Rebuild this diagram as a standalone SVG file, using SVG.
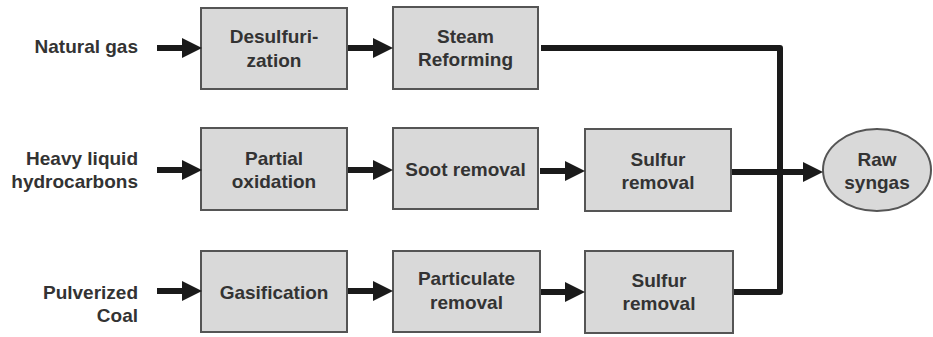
<svg xmlns="http://www.w3.org/2000/svg" width="933" height="337" viewBox="0 0 933 337">
  <style>
    .box { fill: #d9d9d9; stroke: #555555; stroke-width: 2; }
    .lbl { font-family: "Liberation Sans", Arial, sans-serif; font-weight: bold; font-size: 19px; fill: #333333; }
    .mid { text-anchor: middle; }
    .end { text-anchor: end; }
    .flow { fill: none; stroke: #1a1a1a; stroke-width: 6; stroke-linejoin: round; }
  </style>
  <defs>
    <marker id="head" viewBox="0 0 20 20" markerWidth="20" markerHeight="20" markerUnits="userSpaceOnUse" refX="1" refY="10" orient="auto">
      <path d="M0,0 L20,10 L0,20 z" fill="#1a1a1a"/>
    </marker>
  </defs>

  <rect width="933" height="337" fill="#ffffff"/>

  <!-- feedstock labels -->
  <g id="in-natural-gas">
    <text class="lbl end" x="138" y="53">Natural gas</text>
  </g>
  <g id="in-heavy-liquid">
    <text class="lbl end" x="138" y="165">Heavy liquid</text>
    <text class="lbl end" x="138" y="188">hydrocarbons</text>
  </g>
  <g id="in-coal">
    <text class="lbl end" x="138" y="299">Pulverized</text>
    <text class="lbl end" x="138" y="322">Coal</text>
  </g>

  <!-- row 1 -->
  <g id="desulfurization">
    <rect class="box" x="201" y="8" width="146" height="81"/>
    <text class="lbl mid" x="274" y="43">Desulfuri-</text>
    <text class="lbl mid" x="274" y="67">zation</text>
  </g>
  <g id="steam-reforming">
    <rect class="box" x="393" y="7" width="145" height="82"/>
    <text class="lbl mid" x="465.5" y="43">Steam</text>
    <text class="lbl mid" x="465.5" y="66">Reforming</text>
  </g>

  <!-- row 2 -->
  <g id="partial-oxidation">
    <rect class="box" x="201" y="128" width="146" height="82"/>
    <text class="lbl mid" x="274" y="165">Partial</text>
    <text class="lbl mid" x="274" y="188">oxidation</text>
  </g>
  <g id="soot-removal">
    <rect class="box" x="393" y="128" width="145" height="81"/>
    <text class="lbl mid" x="465.5" y="176">Soot removal</text>
  </g>
  <g id="sulfur-removal-1">
    <rect class="box" x="585" y="129" width="146" height="82"/>
    <text class="lbl mid" x="658" y="166">Sulfur</text>
    <text class="lbl mid" x="658" y="189">removal</text>
  </g>

  <!-- row 3 -->
  <g id="gasification">
    <rect class="box" x="201" y="251" width="146" height="81"/>
    <text class="lbl mid" x="274" y="299">Gasification</text>
  </g>
  <g id="particulate-removal">
    <rect class="box" x="393" y="251" width="147" height="81"/>
    <text class="lbl mid" x="466.5" y="285">Particulate</text>
    <text class="lbl mid" x="466.5" y="309">removal</text>
  </g>
  <g id="sulfur-removal-2">
    <rect class="box" x="585" y="251" width="148" height="82"/>
    <text class="lbl mid" x="659" y="287">Sulfur</text>
    <text class="lbl mid" x="659" y="310">removal</text>
  </g>

  <!-- product -->
  <g id="raw-syngas">
    <ellipse class="box" cx="877" cy="170" rx="54" ry="41"/>
    <text class="lbl mid" x="877" y="166">Raw</text>
    <text class="lbl mid" x="877" y="189">syngas</text>
  </g>

  <!-- connectors -->
  <g id="connectors">
    <path class="flow" d="M157,48 H183" marker-end="url(#head)"/>
    <path class="flow" d="M348,48 H374" marker-end="url(#head)"/>
    <path class="flow" d="M157,170 H183" marker-end="url(#head)"/>
    <path class="flow" d="M348,170 H374" marker-end="url(#head)"/>
    <path class="flow" d="M540,171 H566" marker-end="url(#head)"/>
    <path class="flow" d="M157,291 H183" marker-end="url(#head)"/>
    <path class="flow" d="M348,291 H374" marker-end="url(#head)"/>
    <path class="flow" d="M541,292 H566" marker-end="url(#head)"/>
    <!-- merge of the three trains into the product -->
    <path class="flow" d="M541,48 H780 V292 H734"/>
    <path class="flow" d="M732,172 H804" marker-end="url(#head)"/>
  </g>
</svg>
